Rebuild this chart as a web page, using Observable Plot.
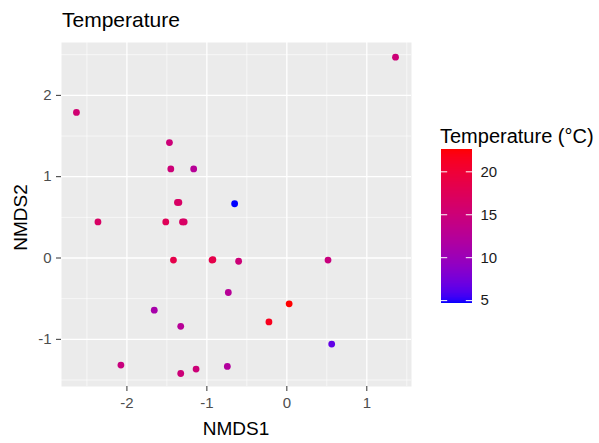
<!DOCTYPE html>
<html><head><meta charset="utf-8">
<script src="https://cdn.jsdelivr.net/npm/d3@7"></script>
<script src="https://cdn.jsdelivr.net/npm/@observablehq/plot@0.6"></script>
<style>
body{margin:0;background:#fff;font-family:"Liberation Sans",Arial,sans-serif;}
#wrap{position:relative;width:599px;height:443px;overflow:hidden;background:#fff;}
.abs{position:absolute;white-space:nowrap;}
#main{position:absolute;left:0;top:0;}
#legend{position:absolute;left:436px;top:140px;}
</style></head><body>
<div id="wrap">
  <div id="main"></div>
  <div id="legend"></div>
  <div class="abs" style="left:62px;top:9px;font-size:21px;line-height:21px;color:#000">Temperature</div>
  <div class="abs" style="left:186px;top:419px;width:100px;text-align:center;font-size:19px;line-height:19px;color:#000">NMDS1</div>
  <div class="abs" style="left:-30px;top:208px;width:100px;text-align:center;font-size:19px;line-height:19px;color:#000;transform:rotate(-90deg);transform-origin:50% 50%">NMDS2</div>
  <div class="abs" style="left:440px;top:126px;font-size:20px;line-height:20px;color:#000">Temperature (°C)</div>
</div>
<script>
// Data
const nmds1 = [1.359, -2.631, -1.468, -1.451, -1.165, -1.368, -1.350, -0.653, -2.362, -1.514, -1.305, -1.284,
  -1.418, -0.935, -0.925, -0.603, 0.515, -0.732, -1.658, 0.029, -0.224, -1.327, 0.561, -2.075, -1.327, -1.135, -0.744];
const nmds2 = [2.47, 1.79, 1.42, 1.095, 1.095, 0.683, 0.683, 0.667, 0.444, 0.444, 0.444, 0.444,
  -0.025, -0.025, -0.02, -0.04, -0.025, -0.424, -0.642, -0.564, -0.786, -0.84, -1.058, -1.317, -1.42, -1.366, -1.333];
const temperature = [15, 15.5, 15, 15, 12.5, 16.5, 16.5, 4.7, 16.5, 17.5, 16.5, 16.5,
  18.5, 18.5, 18.5, 15, 14.5, 12.5, 11, 22.6, 21.5, 12.5, 6.5, 14.5, 15, 15, 12];
const xTicks = [-2, -1, 0, 1];
const yTicks = [-1, 0, 1, 2];
const xMinor = [-2.5, -1.5, -0.5, 0.5, 1.5];
const yMinor = [-1.5, -0.5, 0.5, 1.5, 2.5];
const legendTicks = [5, 10, 15, 20];

const points = nmds1.map((x, i) => ({x, y: nmds2[i], t: temperature[i]}));
const tExt = d3.extent(temperature);
const colorOpts = {type: "linear", domain: tExt, range: ["blue", "red"], interpolate: "lab"};
const font = "'Liberation Sans', Arial, sans-serif";

const main = Plot.plot({
  width: 430, height: 443,
  marginLeft: 61, marginRight: 19, marginTop: 42, marginBottom: 57,
  x: {domain: [-2.818, 1.559]},
  y: {domain: [-1.58, 2.65]},
  color: colorOpts,
  style: {fontFamily: font, background: "transparent"},
  marks: [
    Plot.frame({fill: "#EBEBEB", stroke: null}),
    Plot.ruleX(xMinor, {stroke: "white", strokeWidth: 0.6}),
    Plot.ruleY(yMinor, {stroke: "white", strokeWidth: 0.6}),
    Plot.ruleX(xTicks, {stroke: "white", strokeWidth: 1.3}),
    Plot.ruleY(yTicks, {stroke: "white", strokeWidth: 1.3}),
    Plot.dot(points, {x: "x", y: "y", fill: "t", r: 3.4}),
    Plot.axisX(xTicks, {tickSize: 5, tickPadding: 6, fontSize: 15, stroke: "#333", fill: "#4D4D4D", label: null, tickFormat: d => String(d)}),
    Plot.axisY(yTicks, {tickSize: 5, tickPadding: 5, fontSize: 15, stroke: "#333", fill: "#4D4D4D", label: null, tickFormat: d => String(d)})
  ]
});
document.getElementById("main").appendChild(main);

const N = 200;
const dStep = (tExt[1] - tExt[0]) / N;
const steps = d3.range(N).map(i => tExt[0] + dStep * i);
const legend = Plot.plot({
  width: 80, height: 175,
  marginLeft: 5, marginRight: 44, marginTop: 9, marginBottom: 12.3,
  x: {domain: [0, 1], axis: null},
  y: {domain: tExt, axis: null},
  color: colorOpts,
  style: {fontFamily: font, background: "transparent"},
  marks: [
    Plot.rect(steps, {x1: () => 0, x2: () => 1, y1: d => d, y2: d => Math.min(tExt[1], d + dStep * 1.5), fill: d => d + dStep / 2, shapeRendering: "crispEdges"}),
    Plot.ruleY(legendTicks, {x1: () => 0, x2: () => 0.2, stroke: "white", strokeWidth: 1}),
    Plot.ruleY(legendTicks, {x1: () => 0.8, x2: () => 1, stroke: "white", strokeWidth: 1}),
    Plot.axisY(legendTicks, {anchor: "right", tickSize: 0, tickPadding: 8, fontSize: 15, fill: "#1A1A1A", label: null, tickFormat: d => String(d)})
  ]
});
document.getElementById("legend").appendChild(legend);
</script>
</body></html>
